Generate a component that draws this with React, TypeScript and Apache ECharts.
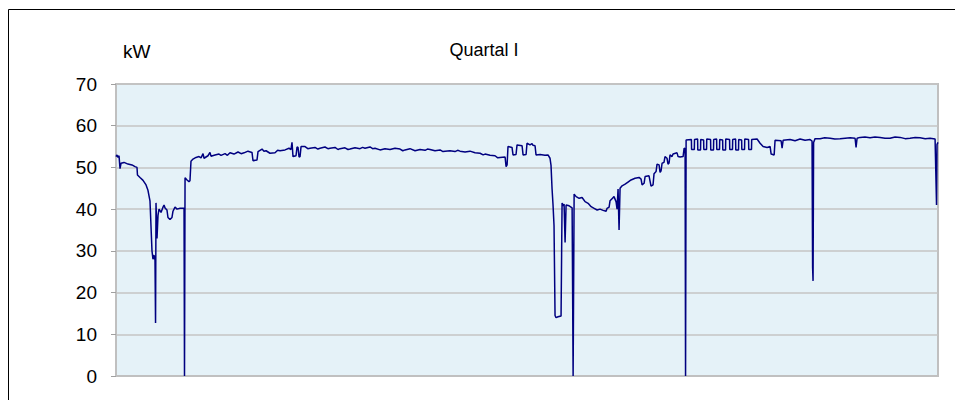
import React, { useEffect, useRef } from "react";
import * as echarts from "echarts";

// Quartal I — load profile, x in days since 1 January, y in kW
const yTicks = [0, 10, 20, 30, 40, 50, 60, 70];
const titleText = "Quartal I";
const unitText = "kW";

const januar: [number, number][] = [
  [0.0, 52.6], [0.11, 53.0], [0.22, 52.4], [0.33, 52.8], [0.44, 49.7], [0.55, 51.0], [0.88, 51.2],
  [1.31, 50.8], [1.75, 50.6], [2.08, 50.2], [2.3, 50.0], [2.35, 48.2], [2.63, 47.6], [2.96, 46.9],
  [3.29, 45.8], [3.5, 44.5], [3.72, 42.0], [3.83, 36.0], [3.94, 30.0], [4.05, 28.0], [4.16, 29.0],
  [4.27, 27.8], [4.33, 12.7], [4.38, 41.5], [4.49, 33.0], [4.6, 38.5], [4.71, 40.0], [4.93, 39.2],
  [5.15, 40.5], [5.26, 41.0], [5.37, 40.3], [5.58, 39.8], [5.69, 38.0], [5.91, 37.5], [6.13, 38.0],
  [6.24, 39.5], [6.46, 40.5], [6.68, 40.0], [7.01, 40.2], [7.45, 40.2], [7.5, 0], [7.56, 47.5],
  [7.78, 47.0], [7.99, 46.6], [8.1, 46.8], [8.21, 51.5], [8.43, 52.0], [8.76, 52.4], [9.09, 52.6],
  [9.31, 52.3], [9.53, 53.3], [9.64, 52.2], [10.07, 52.8], [10.29, 53.6], [10.4, 52.7], [10.84, 53.0],
  [11.28, 53.2], [11.5, 52.9], [11.94, 53.3], [12.2, 52.9], [12.48, 53.5], [12.92, 53.2], [13.36, 53.7],
  [13.7, 53.3], [14.02, 53.5], [14.45, 53.9], [14.89, 53.6], [15.0, 51.6], [15.44, 51.8], [15.55, 53.8],
  [15.99, 54.4], [16.2, 53.9], [16.43, 54.0], [16.86, 53.4], [17.41, 53.5], [17.7, 54.1], [17.96, 54.0],
  [18.51, 54.2], [18.94, 54.6], [19.16, 54.3], [19.27, 56.0], [19.38, 52.6], [19.71, 52.8], [19.82, 54.9],
  [19.93, 54.8], [20.04, 52.5], [20.15, 52.6], [20.26, 55.0], [20.7, 55.0], [21.0, 54.5], [21.24, 54.6],
  [21.79, 54.8], [22.1, 54.4], [22.34, 54.6], [22.88, 54.9], [23.2, 54.5], [23.43, 54.6], [23.98, 54.8],
  [24.3, 54.3], [24.53, 54.5], [25.07, 54.7], [25.4, 54.3], [25.62, 54.4], [26.17, 54.7], [26.72, 54.5],
  [27.0, 54.8], [27.26, 54.6], [27.81, 54.9], [28.1, 54.5], [28.36, 54.6], [28.91, 54.2], [29.45, 54.5],
  [30.0, 54.3], [30.55, 54.6],
];

const februar: [number, number][] = [
  [31.1, 54.4], [31.4, 54.0], [31.65, 54.2], [32.19, 54.5], [32.74, 54.0], [33.29, 54.3], [33.84, 54.1],
  [34.1, 54.4], [34.38, 54.3], [34.93, 54.0], [35.48, 54.2], [35.8, 53.8], [36.03, 53.9], [36.57, 54.0],
  [37.12, 53.8], [37.4, 54.1], [37.67, 53.9], [38.22, 53.7], [38.76, 53.9], [39.31, 53.5], [39.86, 53.4],
  [40.2, 53.0], [40.41, 53.2], [40.95, 52.9], [41.5, 52.8], [41.8, 52.3], [42.05, 52.4], [42.6, 52.5],
  [42.71, 50.2], [42.82, 50.6], [42.92, 55.0], [43.36, 54.8], [43.47, 53.0], [43.8, 53.1], [43.91, 55.4],
  [44.46, 55.2], [44.57, 53.0], [44.9, 53.1], [45.0, 55.8], [45.33, 55.4], [45.55, 55.7], [45.66, 55.3],
  [45.88, 55.2], [45.99, 53.0], [46.43, 53.1], [46.97, 52.9], [47.3, 53.0], [47.52, 52.2], [47.63, 50.5],
  [47.74, 45.0], [47.85, 41.0], [47.96, 36.0], [48.07, 14.5], [48.18, 14.0], [48.4, 14.2], [48.73, 14.4],
  [48.84, 41.5], [48.95, 40.8], [49.06, 41.2], [49.17, 32.0], [49.28, 41.0], [49.61, 40.8], [49.94, 40.3],
  [50.05, 0], [50.16, 43.6], [50.38, 43.0], [50.71, 42.6], [51.03, 42.8], [51.36, 41.8], [51.69, 41.4],
  [52.02, 40.6], [52.35, 40.2], [52.68, 39.8], [53.0, 40.0], [53.33, 39.7], [53.66, 39.5], [53.77, 40.2],
  [53.99, 40.5], [54.09, 42.0], [54.31, 42.5], [54.53, 43.0], [54.75, 41.8], [54.86, 40.0], [54.97, 44.8],
  [55.08, 35.0], [55.19, 45.0], [55.41, 45.6], [55.74, 46.0], [56.06, 46.5], [56.39, 47.0], [56.83, 47.4],
  [57.27, 47.6], [57.49, 47.2], [57.6, 45.8], [57.82, 46.2], [57.93, 47.8], [58.36, 48.0], [58.58, 45.5],
  [58.8, 45.8], [58.91, 48.5],
];

const maerz: [number, number][] = [
  [59.13, 49.0], [59.24, 50.8], [59.46, 50.6], [59.57, 48.8], [59.68, 49.2], [59.79, 51.0], [60.0, 51.2],
  [60.11, 52.6], [60.33, 52.2], [60.44, 50.8], [60.55, 51.0], [60.66, 53.0], [60.88, 52.6], [60.99, 53.2],
  [61.43, 53.5], [61.54, 52.6], [61.76, 52.5], [62.09, 52.6], [62.2, 54.6], [62.31, 54.5], [62.36, 0],
  [62.42, 56.6], [63.0, 56.7], [63.02, 54.3], [63.32, 54.3], [63.34, 56.7], [63.68, 56.8], [63.7, 54.2],
  [64.0, 54.2], [64.02, 56.7], [64.34, 56.6], [64.36, 54.3], [64.66, 54.3], [64.68, 56.8], [65.1, 56.7],
  [65.12, 54.2], [65.42, 54.2], [65.44, 56.7], [65.76, 56.8], [65.78, 54.3], [66.08, 54.3], [66.1, 56.7],
  [66.42, 56.6], [66.44, 54.2], [66.74, 54.2], [66.76, 56.8], [67.18, 56.7], [67.2, 54.3], [67.5, 54.3],
  [67.52, 56.7], [67.84, 56.8], [67.86, 54.2], [68.16, 54.2], [68.18, 56.7], [68.5, 56.6], [68.52, 54.3],
  [68.82, 54.3], [68.84, 56.8], [69.26, 56.7], [69.28, 54.3], [69.58, 54.3], [69.6, 56.7], [70.19, 56.8],
  [70.52, 55.8], [70.85, 55.0], [71.29, 54.8], [71.62, 55.0], [71.73, 53.2], [72.06, 53.0], [72.16, 56.5],
  [72.82, 56.4], [72.93, 54.6], [73.04, 56.5], [73.8, 56.7], [74.35, 56.4], [74.9, 56.8], [75.45, 56.5],
  [75.99, 56.7], [76.21, 56.3], [76.27, 26.0], [76.32, 22.8], [76.38, 56.0], [76.54, 56.9], [77.09, 56.9],
  [77.6, 57.1], [78.19, 57.0], [78.7, 56.8], [79.28, 56.9], [80.38, 57.1], [80.92, 57.0], [81.03, 54.8],
  [81.14, 57.0], [81.47, 57.2], [82.0, 57.3], [82.56, 57.1], [83.1, 57.3], [83.66, 57.2], [84.2, 57.0],
  [84.75, 57.0], [85.3, 57.3], [85.85, 57.2], [86.4, 56.9], [86.94, 57.0], [87.5, 57.2], [88.04, 57.1],
  [88.6, 56.9], [89.13, 57.0], [89.68, 56.8], [89.84, 41.0], [89.89, 55.5], [90.0, 56.0],
];

export default function App() {
  const ref = useRef<HTMLDivElement>(null);
  useEffect(() => {
    if (!ref.current) return;
    const chart = echarts.init(ref.current, undefined, { renderer: "svg" });
    const font = "Arial, 'Liberation Sans', sans-serif";
    chart.setOption({
      animation: false,
      backgroundColor: "#ffffff",
      graphic: [
        {
          type: "rect",
          shape: { x: 8.5, y: 9.5, width: 960, height: 420 },
          style: { fill: "none", stroke: "#000000", lineWidth: 1 },
          silent: true,
        },
        {
          type: "text",
          x: 484,
          y: 50,
          style: { text: titleText, font: `18px ${font}`, fill: "#000", textAlign: "center", textVerticalAlign: "middle" },
        },
        {
          type: "text",
          x: 123,
          y: 51,
          style: { text: unitText, font: `19px ${font}`, fill: "#000", textAlign: "left", textVerticalAlign: "middle" },
        },
      ],
      grid: {
        show: true,
        left: 116,
        top: 84,
        right: 17,
        bottom: 24,
        backgroundColor: "#E5F2F8",
        borderColor: "#C0C0C0",
        borderWidth: 2,
      },
      xAxis: {
        type: "value",
        min: 0,
        max: 90,
        axisLabel: { show: false },
        axisTick: { show: false },
        splitLine: { show: false },
        axisLine: { show: true, lineStyle: { color: "#C0C0C0", width: 2 } },
      },
      yAxis: {
        type: "value",
        min: yTicks[0],
        max: yTicks[yTicks.length - 1],
        interval: 10,
        axisLine: { show: true, lineStyle: { color: "#C0C0C0", width: 2 } },
        axisTick: { show: true, length: 5, lineStyle: { color: "#A0A0A0", width: 1 } },
        axisLabel: { color: "#000", fontSize: 19, fontFamily: font, margin: 19 },
        splitLine: { show: true, lineStyle: { color: "#C4C4C4", width: 1.5 } },
      },
      series: [
        {
          type: "line",
          data: [...januar, ...februar, ...maerz],
          showSymbol: false,
          symbol: "none",
          lineStyle: { color: "#000080", width: 1.5 },
          silent: true,
        },
      ],
    });
    return () => chart.dispose();
  }, []);
  return <div ref={ref} style={{ position: "absolute", left: 0, top: 0, width: 955, height: 400 }} />;
}
